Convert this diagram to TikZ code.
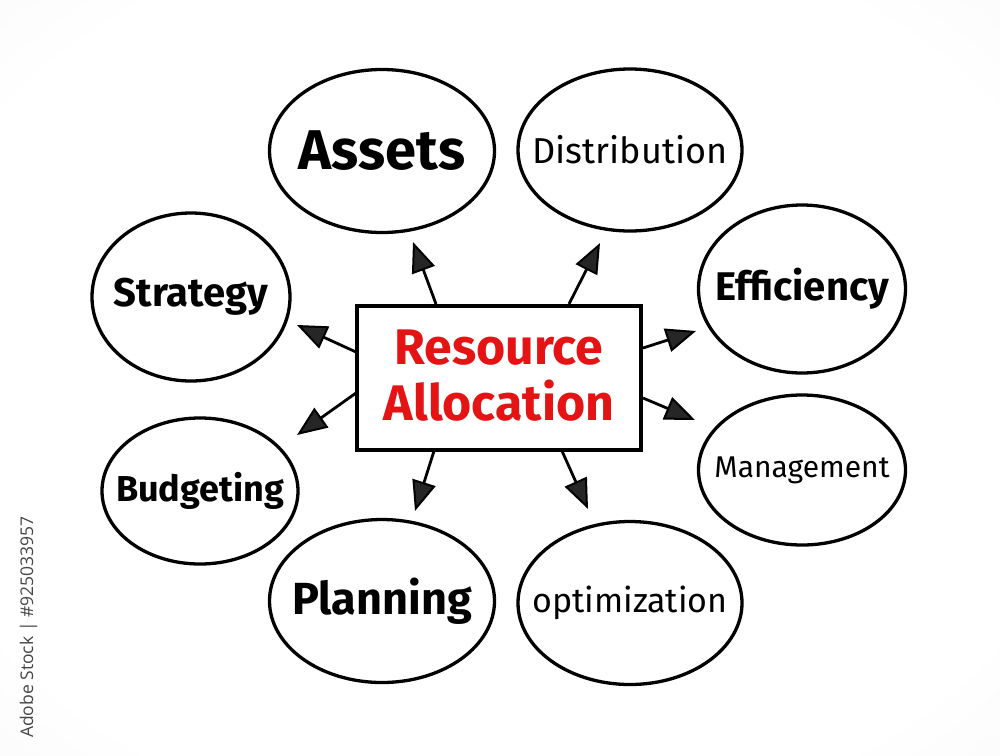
\documentclass[tikz,border=0pt]{standalone}
\usepackage{fontspec}
\setmainfont{Fira Sans}
\newfontfamily\idfont{Open Sans}
\usetikzlibrary{arrows.meta,shapes.geometric}
\definecolor{markred}{RGB}{228,20,20}
\definecolor{idgray}{RGB}{70,70,70}
\pgfdeclareradialshading{bgshade}{\pgfpoint{0bp}{0bp}}{color(0bp)=(white); color(30bp)=(white); color(50bp)=(black!5); color(71bp)=(black!10); color(100bp)=(black!10)}
\begin{document}
\begin{tikzpicture}[x=1pt,y=-1pt,
  bub/.style={draw=black, line width=3.3pt, ellipse, inner sep=0pt},
  lbl/.style={font=\fontsize{#1}{#1}\selectfont},
  blbl/.style={font=\fontsize{#1}{#1}\selectfont\bfseries},
  arr/.style={line width=2.8pt, -{Triangle[length=30pt,width=24pt,fill=black!85,line width=2pt]}},
  hub/.style={draw=black, line width=3.2pt, fill=white, minimum width=284pt, minimum height=144pt, inner sep=0pt}]
\useasboundingbox (0,0) rectangle (1000,755);
\shade[shading=bgshade] (0,0) rectangle (1000,755);

% hub
\node[hub] (ra) at (499,378) {};
\node[text=markred, font=\fontsize{50}{56}\selectfont\bfseries, align=center] (ratext) at (499,376) {Resource\\Allocation};

% bubbles
\node[bub, minimum width=225pt, minimum height=163pt] (assets) at (382,151) {};
\node[blbl=56] at (assets) {Assets};
\node[bub, minimum width=224pt, minimum height=162pt] (distr) at (630,150) {};
\node[lbl=36] at (distr) {Distribution};
\node[bub, minimum width=198pt, minimum height=168pt] (strat) at (191,297) {};
\node[blbl=40] at (strat) {Strategy};
\node[bub, minimum width=207pt, minimum height=168pt] (eff) at (802,289) {};
\node[blbl=40] at (eff) {Efficiency};
\node[bub, minimum width=196pt, minimum height=146pt] (budg) at (200,491) {};
\node[blbl=36] at (budg) {Budgeting};
\node[bub, minimum width=207pt, minimum height=150pt] (mgmt) at (802,470) {};
\node[lbl=30] at (mgmt) {Management};
\node[bub, minimum width=225pt, minimum height=163pt] (plan) at (382,601) {};
\node[blbl=45] at (plan) {Planning};
\node[bub, minimum width=224pt, minimum height=163pt] (optim) at (630,603) {};
\node[lbl=34] at (optim) {optimization};

% arrow end points
\coordinate (s1) at (436,304); \coordinate (t1) at (413,242);
\coordinate (s2) at (569,304); \coordinate (t2) at (600,243);
\coordinate (s3) at (356,352); \coordinate (t3) at (297,325);
\coordinate (s4) at (356,393); \coordinate (t4) at (297,435);
\coordinate (s5) at (643,348); \coordinate (t5) at (696,331);
\coordinate (s6) at (643,398); \coordinate (t6) at (695,420);
\coordinate (s7) at (434,451); \coordinate (t7) at (415,511);
\coordinate (s8) at (562,451); \coordinate (t8) at (588,509);
\foreach \i in {1,...,8} \draw[arr] (s\i) -- (t\i);

% stock id
\node[rotate=90, anchor=base west, text=idgray, font=\idfont\fontsize{17.5}{17.5}\selectfont, inner sep=0pt] (stockid) at (33,738) {Adobe Stock | \#925033957};
\end{tikzpicture}
\end{document}
